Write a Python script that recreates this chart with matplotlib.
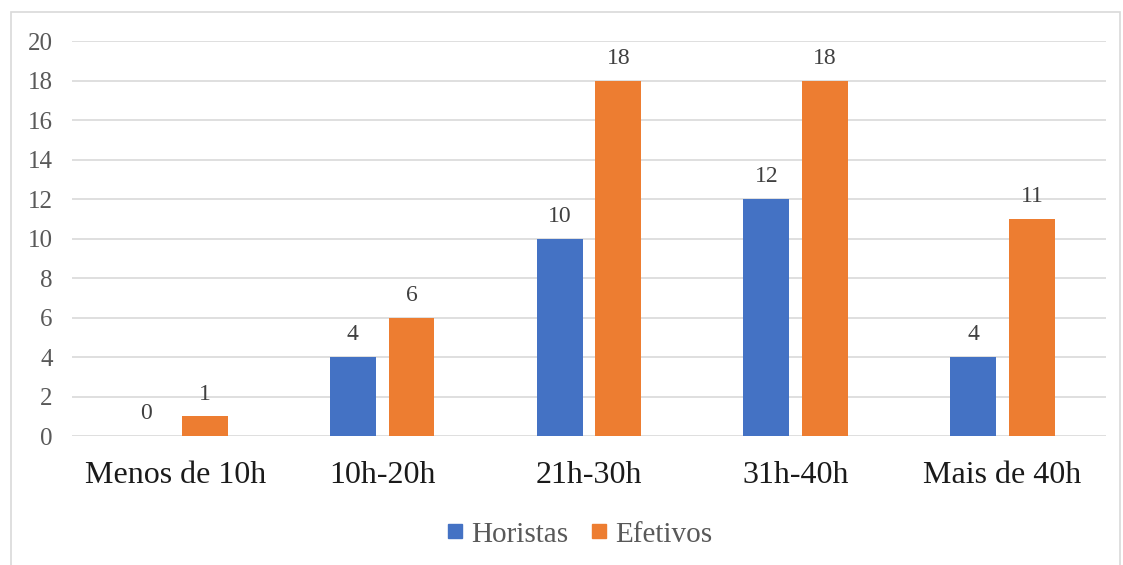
import matplotlib.pyplot as plt
from matplotlib.patches import Rectangle
import numpy as np

categories = ["Menos de 10h", "10h-20h", "21h-30h", "31h-40h", "Mais de 40h"]
horistas = [0, 4, 10, 12, 4]
efetivos = [1, 6, 18, 18, 11]
series_names = ("Horistas", "Efetivos")
colors = ("#4472C4", "#ED7D31")

plt.rcParams["font.family"] = ["Liberation Serif", "DejaVu Serif"]

fig = plt.figure(figsize=(11.23, 5.65), dpi=100)
ax = fig.add_axes([0.0641, 0.2283, 0.9207, 0.6991])

# light frame around the whole chart, like the Office chart area
fig.patches.append(Rectangle((11 / 1123, -0.02), 1109 / 1123, 1 - 12 / 565 + 0.02,
                             transform=fig.transFigure, fill=False,
                             edgecolor="#D9D9D9", linewidth=1.2))

x = np.arange(len(categories))
width = 0.222
offset = 0.142
for vals, name, c, sign in zip((horistas, efetivos), series_names, colors, (-1, 1)):
    bars = ax.bar(x + sign * offset, vals, width, color=c, label=name, zorder=3)
    for b, v in zip(bars, vals):
        ax.annotate(str(v), (b.get_x() + b.get_width() / 2, v),
                    xytext=(0, 12), textcoords="offset points",
                    ha="center", va="baseline", fontsize=17, color="#404040")

ax.set_xlim(-0.5, len(categories) - 0.5)
ax.set_ylim(0, 20)
ax.set_yticks(range(0, 21, 2))
ax.yaxis.grid(True, color="#D9D9D9", linewidth=1.2, zorder=0)
for s in ax.spines.values():
    s.set_visible(False)
ax.tick_params(axis="y", length=0, labelsize=18, labelcolor="#595959", pad=14)
ax.tick_params(axis="x", length=0, labelsize=23, labelcolor="#1a1a1a", pad=18)
ax.set_xticks(x)
ax.set_xticklabels(categories)

handles = [plt.Line2D([], [], marker="s", linestyle="", color=c, markersize=10)
           for c in colors]
leg = fig.legend(handles, series_names, loc="center", bbox_to_anchor=(0.514, 0.054),
                 ncol=2, frameon=False, fontsize=21, handletextpad=0.1,
                 columnspacing=0.6, handlelength=0.9)
for t in leg.get_texts():
    t.set_color("#595959")

fig.savefig("out.png", dpi=100)
